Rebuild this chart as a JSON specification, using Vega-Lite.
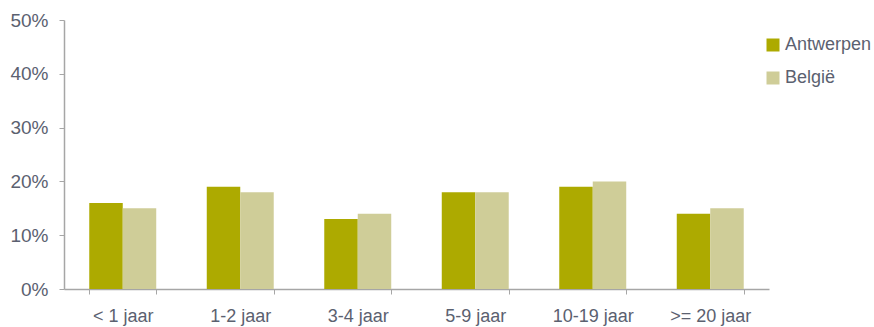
{
  "$schema": "https://vega.github.io/schema/vega-lite/v6.json",
  "width": 705,
  "height": 269,
  "autosize": "none",
  "padding": {"left": 64, "top": 20, "right": 105, "bottom": 38},
  "background": "white",
  "config": {
    "view": {"stroke": null},
    "font": "Liberation Sans"
  },
  "data": {
    "values": [
      {"cat": "< 1 jaar", "reeks": "Antwerpen", "waarde": 0.16},
      {"cat": "< 1 jaar", "reeks": "België", "waarde": 0.15},
      {"cat": "1-2 jaar", "reeks": "Antwerpen", "waarde": 0.19},
      {"cat": "1-2 jaar", "reeks": "België", "waarde": 0.18},
      {"cat": "3-4 jaar", "reeks": "Antwerpen", "waarde": 0.13},
      {"cat": "3-4 jaar", "reeks": "België", "waarde": 0.14},
      {"cat": "5-9 jaar", "reeks": "Antwerpen", "waarde": 0.18},
      {"cat": "5-9 jaar", "reeks": "België", "waarde": 0.18},
      {"cat": "10-19 jaar", "reeks": "Antwerpen", "waarde": 0.19},
      {"cat": "10-19 jaar", "reeks": "België", "waarde": 0.20},
      {"cat": ">= 20 jaar", "reeks": "Antwerpen", "waarde": 0.14},
      {"cat": ">= 20 jaar", "reeks": "België", "waarde": 0.15}
    ]
  },
  "mark": {"type": "bar"},
  "encoding": {
    "x": {
      "field": "cat",
      "type": "nominal",
      "sort": null,
      "title": null,
      "scale": {"paddingInner": 0.43, "paddingOuter": 0.215},
      "axis": {
        "labelAngle": 0,
        "labelFontSize": 18,
        "labelColor": "#5B6170",
        "labelPadding": 13,
        "tickBand": "extent",
        "tickSize": 5,
        "tickColor": "#A6A6A6",
        "domainColor": "#A6A6A6",
        "domainWidth": 1.5,
        "grid": false
      }
    },
    "xOffset": {"field": "reeks", "type": "nominal", "sort": ["Antwerpen", "België"]},
    "y": {
      "field": "waarde",
      "type": "quantitative",
      "title": null,
      "scale": {"domain": [0, 0.5], "nice": false},
      "axis": {
        "values": [0, 0.1, 0.2, 0.3, 0.4, 0.5],
        "format": ".0%",
        "labelFontSize": 19,
        "labelColor": "#5B6170",
        "labelPadding": 11,
        "tickSize": 5,
        "tickColor": "#A6A6A6",
        "domainColor": "#A6A6A6",
        "domainWidth": 1.5,
        "grid": false
      }
    },
    "color": {
      "field": "reeks",
      "type": "nominal",
      "sort": ["Antwerpen", "België"],
      "scale": {"domain": ["Antwerpen", "België"], "range": ["#ADAA00", "#CFCD98"]},
      "legend": {
        "title": null,
        "orient": "none",
        "legendX": 700,
        "legendY": 16,
        "symbolType": "square",
        "symbolSize": 169,
        "symbolStrokeWidth": 0,
        "symbolOpacity": 1,
        "labelFontSize": 18,
        "labelColor": "#5B6170",
        "labelOffset": 3,
        "rowPadding": 15
      }
    }
  }
}
